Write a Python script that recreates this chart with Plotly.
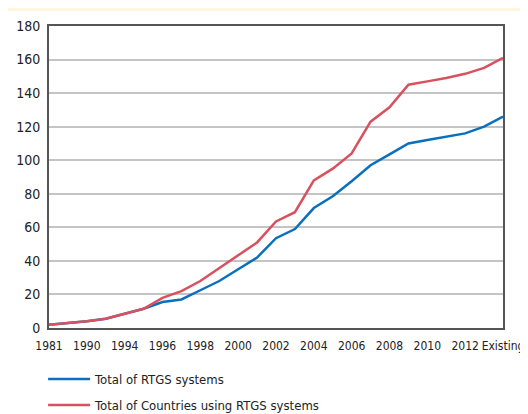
import plotly.graph_objects as go

years = ["1981", "1988", "1990", "1992", "1994", "1995", "1996", "1997", "1998", "1999",
         "2000", "2001", "2002", "2003", "2004", "2005", "2006", "2007", "2008", "2009",
         "2010", "2011", "2012", "2013", "Existing"]
shown_years = ["1981", "1990", "1994", "1996", "1998", "2000", "2002", "2004", "2006",
               "2008", "2010", "2012", "Existing"]

rtgs_systems = [2, 3, 4, 5.5, 8.5, 11.5, 15.5, 17, 22.5, 28, 35, 42, 53.5, 59, 71.5,
                78.5, 87.5, 97, 103.5, 110, 112, 114, 116, 120, 126]
rtgs_countries = [2, 3, 4, 5.5, 8.5, 11.5, 18, 22, 28, 35.5, 43, 51, 63.5, 69, 88,
                  95, 104, 123, 131.5, 145, 147, 149, 151.5, 155, 161]

blue = "#0a70be"
red = "#d9505f"
font = "DejaVu Sans Condensed, DejaVu Sans"

fig = go.Figure()
fig.add_trace(go.Scatter(
    x=years, y=rtgs_systems, mode="lines", name="Total of RTGS systems",
    line=dict(color=blue, width=2.5), legendgroup="a",
))
fig.add_trace(go.Scatter(
    x=years, y=rtgs_countries, mode="lines", name="Total of Countries using RTGS systems",
    line=dict(color=red, width=2.5), legendgroup="b",
))

# white panel over the cream background
fig.add_shape(type="rect", xref="paper", yref="paper",
              x0=-0.2, x1=1.2, y0=-0.4, y1=1.05,
              fillcolor="white", line=dict(width=0), layer="below")

# page body adds an 8px offset, so the figure is 8px smaller
fig.update_layout(
    width=520, height=406,
    paper_bgcolor="#fef5df",
    plot_bgcolor="white",
    margin=dict(l=41, r=25, t=18, b=86, autoexpand=False),
    font=dict(family=font, size=13, color="#222"),
    showlegend=True,
    legend=dict(orientation="v", x=-0.013, xanchor="left",
                yref="container", y=0.123, yanchor="top",
                bgcolor="rgba(0,0,0,0)", font=dict(size=13), tracegroupgap=6,
                traceorder="grouped", itemwidth=42),
    xaxis=dict(
        type="category", range=[0, 24], tickvals=shown_years, ticktext=shown_years,
        showgrid=False, showline=True, linecolor="#555", linewidth=2, mirror=True,
        ticks="", tickangle=0, automargin=False, tickfont=dict(size=12),
        ticklabelstandoff=6,
    ),
    yaxis=dict(
        range=[0, 180], tickvals=list(range(0, 181, 20)),
        showgrid=True, gridcolor="#c4c4c4", gridwidth=1.5,
        showline=True, linecolor="#555", linewidth=2, mirror=True,
        ticks="", zeroline=False, automargin=False, tickfont=dict(size=14),
        ticklabelstandoff=4,
    ),
)

fig.write_html("out.html")
